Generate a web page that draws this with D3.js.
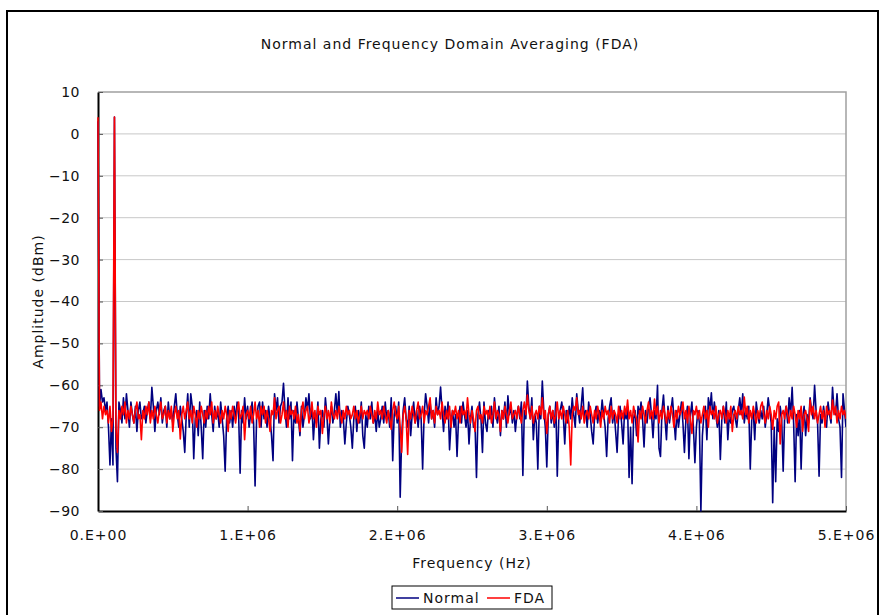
<!DOCTYPE html>
<html><head><meta charset="utf-8">
<script src="https://cdn.jsdelivr.net/npm/d3@7"></script>
<style>
html,body{margin:0;padding:0;background:#fff;}
svg{display:block;font-family:"DejaVu Sans",Verdana,sans-serif;}
</style></head>
<body>
<svg id="chart" width="880" height="615"></svg>
<script>
const title = "Normal and Frequency Domain Averaging (FDA)";
const xTitle = "Frequency (Hz)";
const yTitle = "Amplitude (dBm)";
const seriesNames = ["Normal", "FDA"];
const seriesColors = ["#000080", "#ff0000"];
const freqStep = 10000; // Hz per point
const xTicks = [0, 1e6, 2e6, 3e6, 4e6, 5e6];
const xTickLabels = ["0.E+00", "1.E+06", "2.E+06", "3.E+06", "4.E+06", "5.E+06"];
const yTicks = [10, 0, -10, -20, -30, -40, -50, -60, -70, -80, -90];

const normal = [
3,-65,-61,-64,-63,-66,-64,-70,-79,-68,
-79,4,-75,-83,-64,-66,-69,-63,-68,-62,
-66,-70,-64,-67,-69,-65,-71,-66,-64,-68,
-67,-65,-69,-66,-64,-68,-60.5,-65,-71,-66,
-64,-67,-63,-69,-66,-65,-70,-64,-68,-66,
-69,-65,-62,-67,-70,-65,-68,-71,-76,-67,
-62,-70,-62,-65,-77.5,-68,-66,-72,-64,-70,
-77.5,-66,-70,-65,-68,-62,-67,-71,-65,-68,
-66,-70,-64,-68,-72,-80.5,-68,-65,-69,-66,
-70,-65,-68,-64,-67,-81,-66,-69,-63,-68,
-65,-70,-67,-64,-69,-84,-68,-65,-64,-70,
-64,-68,-66,-70,-65,-68,-72,-78,-62,-66,
-63,-69,-65,-64,-59.5,-66,-70,-63,-68,-64,
-78,-66,-69,-64,-68,-72,-65,-70,-67,-63,
-66,-62,-68,-65,-73,-67,-69,-64,-75,-68,
-66,-70,-63,-67,-74,-68,-65,-69,-66,-62,
-67,-61.5,-70,-66,-68,-74,-69,-65,-67,-70,
-75,-68,-65,-71,-66,-69,-64,-72,-75,-67,
-70,-65,-68,-64,-69,-67,-71,-66,-70,-68,
-65,-69,-64,-68,-66,-70,-63,-78,-67,-65,
-69,-64,-86.7,-72,-66,-63,-68,-70,-65,-72,
-67,-64,-69,-66,-70,-65,-68,-80,-67,-62,
-65,-69,-64,-68,-66,-70,-63,-67,-65,-60.4,
-66,-71,-65,-68,-64,-75.4,-69,-66,-70,-67,
-77,-68,-65,-69,-64,-67,-70,-66,-74,-68,
-65,-70,-69,-82,-67,-64,-68,-76,-64,-69,
-71,-66,-68,-65,-70,-63,-67,-69,-65,-72,
-66,-68,-64,-70,-62.5,-67,-65,-69,-66,-71,
-67,-65,-68,-64,-81.5,-66,-68,-59,-65,-68,
-63,-73,-67,-69,-80,-65,-68,-59,-66,-70,
-79.5,-67,-65,-69,-66,-70,-64,-81.7,-68,-66,
-64,-67,-74,-66,-69,-65,-68,-63,-67,-70,
-62,-66,-69,-65,-60.6,-68,-66,-70,-64,-67,
-71,-74,-67,-65,-69,-66,-68,-63.5,-67,-70,
-77,-68,-65,-63,-69,-66,-71,-76,-67,-65,
-69,-74,-66,-68,-65,-82,-70,-83.5,-68,-66,
-72,-65,-67,-64,-68,-74.7,-66,-69,-65,-63,
-67,-72.5,-66,-68,-60,-75,-77,-66,-62.3,-68,
-73,-65,-69,-66,-63,-68,-73,-66,-70,-67,
-64,-69,-76,-68,-65,-77.5,-67,-64,-70,-78.5,
-70,-66,-69,-90,-72,-67,-65,-73,-63,-66,
-61.8,-68,-64,-67,-70,-66,-77.7,-68,-65,-69,
-64,-73,-67,-69,-66,-65,-68,-70,-66,-63,
-67,-62,-69,-66,-68,-65,-80,-68,-66,-73,
-64,-67,-69,-66,-68,-65,-70,-67,-63,-66,
-69,-88,-70,-83,-68,-71,-65,-68,-80.5,-67,
-65,-69,-63,-67,-60.5,-69,-83,-67,-72,-66,
-80,-68,-65,-72,-67,-69,-63,-66,-68,-60,
-66,-69,-81.7,-67,-69,-65,-68,-70,-64,-67,
-69,-60.5,-66,-67,-62,-68,-70,-82,-62,-66,-70
];

const fda = [
4,-66,-64,-68,-65,-67,-66,-69,-65,-71,
-68,4,-70,-76,-66,-68,-65,-67,-64,-69,
-66,-68,-65,-67,-69,-66,-64,-68,-67,-73,
-66,-68,-65,-67,-64,-69,-66,-68,-65,-67,
-69,-66,-64,-68,-67,-65,-69,-66,-68,-65,
-71,-67,-65,-68,-66,-72.8,-67,-65,-68,-66,
-64,-68,-66,-69,-65,-67,-70,-66,-68,-65,
-67,-69,-66,-68,-65,-67,-64,-69,-66,-68,
-65,-67,-69,-66,-68,-65,-67,-71,-66,-68,
-65,-67,-69,-66,-64,-68,-67,-65,-73,-67,
-66,-68,-65,-69,-67,-64,-68,-66,-70,-65,
-67,-65,-69,-66,-68,-71,-66,-67,-63,-68,
-66,-65,-69,-67,-64,-68,-66,-70,-65,-67,
-66,-68,-65,-69,-67,-71,-66,-64,-68,-66,
-65,-69,-67,-64,-68,-66,-70,-65,-67,-66,
-71.5,-67,-65,-68,-66,-69,-64,-67,-68,-66,
-68,-65,-67,-69,-66,-68,-65,-67,-66,-68,
-67,-65,-68,-66,-69,-67,-65,-68,-66,-67,
-66,-68,-65,-67,-69,-66,-68,-64,-67,-66,
-68,-65,-67,-69,-66,-68,-70.5,-66,-64,-67,
-68,-65,-70,-76,-67,-65,-68,-76.5,-66,-68,
-65,-67,-69,-66,-64,-68,-67,-65,-69,-66,
-67,-65,-63,-68,-66,-69,-65,-67,-66,-68,
-64,-67,-69,-66,-68,-65,-70,-66,-67,-65,
-68,-66,-69,-65,-67,-66,-68,-63,-67,-69,
-66,-68,-71,-66,-65,-68,-67,-69,-65,-67,
-66,-68,-65,-69,-67,-64,-68,-66,-67,-71,
-66,-68,-65,-67,-69,-66,-64,-68,-67,-66,
-68,-65,-67,-69,-66,-64,-67,-62.3,-66,-68,
-65,-69,-67,-66,-68,-65,-67,-63,-68,-66,
-71.5,-67,-65,-68,-66,-69,-67,-64,-68,-66,
-68,-65,-67,-69,-66,-70,-79,-67,-65,-66,
-63,-67,-66,-68,-65,-69,-67,-66,-68,-65,
-67,-69,-66,-68,-65,-67,-70,-66,-68,-65,
-67,-66,-69,-65,-68,-66,-67,-69,-65,-68,
-66,-68,-65,-67,-63.5,-68,-66,-69,-65,-67,
-68,-73.5,-66,-68,-65,-67,-69,-66,-64,-68,
-66,-68,-63.3,-67,-65,-69,-66,-68,-65,-67,
-69,-66,-68,-65,-67,-70,-66,-68,-65,-67,
-66,-64,-68,-66,-69,-65,-68,-71.5,-66,-67,
-65,-68,-66,-69,-67,-65,-68,-66,-70,-65,
-67,-66,-68,-65,-69,-67,-66,-68,-65,-67,
-69,-66,-68,-65,-71,-67,-66,-68,-65,-67,
-66,-68,-62.8,-67,-65,-69,-66,-68,-65,-67,
-69,-66,-68,-65,-64,-67,-69,-66,-68,-65,
-67,-70.5,-66,-68,-65,-64,-74,-67,-66,-68,
-65,-67,-69,-66,-68,-65,-67,-70,-66,-68,
-65,-71,-67,-66,-68,-71,-63.5,-67,-65,-68,
-66,-69,-67,-65,-68,-66,-70,-65,-67,-66,
-68,-63.5,-67,-65,-69,-66,-68,-65,-67,-66,-68
];

const svg = d3.select("#chart");
const m = {left: 98, right: 846, top: 92, bottom: 511};

// outer frame
svg.append("rect").attr("x", 7).attr("y", 11).attr("width", 871).attr("height", 640)
  .attr("fill", "none").attr("stroke", "#000").attr("stroke-width", 2);

const x = d3.scaleLinear().domain([0, 5e6]).range([m.left, m.right]);
const y = d3.scaleLinear().domain([-90, 10]).range([m.bottom, m.top]);

// gridlines
svg.append("g").selectAll("line").data(yTicks.filter(v => v > -90 && v < 10)).join("line")
  .attr("x1", m.left).attr("x2", m.right)
  .attr("y1", d => y(d)).attr("y2", d => y(d))
  .attr("stroke", "#c8c8c8").attr("stroke-width", 1);

// plot border top/right
svg.append("path")
  .attr("d", `M${m.left},${y(10)}H${m.right}V${m.bottom}`)
  .attr("fill", "none").attr("stroke", "#a0a0a0").attr("stroke-width", 1.5);

// axes
const xAxis = d3.axisBottom(x).tickValues(xTicks).tickFormat((d, i) => xTickLabels[i])
  .tickSizeInner(-5).tickSizeOuter(0).tickPadding(19);
const gx = svg.append("g").attr("transform", `translate(0,${m.bottom})`).call(xAxis);
gx.select(".domain").attr("stroke", "#000").attr("stroke-width", 2);
gx.selectAll(".tick line").attr("stroke", "#555");
gx.selectAll("text").attr("font-size", 14).attr("fill", "#111").attr("font-family", "DejaVu Sans")
  .attr("letter-spacing", 1);

const yAxis = d3.axisLeft(y).tickValues(yTicks).tickFormat(d3.format("d"))
  .tickSizeInner(-5).tickSizeOuter(0).tickPadding(18);
const gy = svg.append("g").attr("transform", `translate(${m.left},0)`).call(yAxis);
gy.select(".domain").attr("stroke", "#000").attr("stroke-width", 2);
gy.selectAll(".tick line").attr("stroke", "#555");
gy.selectAll("text").attr("font-size", 14).attr("fill", "#111").attr("font-family", "DejaVu Sans")
  .attr("letter-spacing", 0.5);

svg.append("clipPath").attr("id", "clip").append("rect")
  .attr("x", m.left - 2).attr("y", m.top - 2).attr("width", m.right - m.left + 2).attr("height", m.bottom - m.top + 3);

const line = d3.line().x((d, i) => x(i * freqStep)).y(d => y(d));
const series = [normal, fda];
series.forEach((s, k) => {
  svg.append("path").datum(s).attr("d", line)
    .attr("clip-path", "url(#clip)")
    .attr("fill", "none").attr("stroke", seriesColors[k]).attr("stroke-width", 1.6)
    .attr("stroke-linejoin", "round");
});

// titles
svg.append("text").attr("x", 450).attr("y", 49).attr("text-anchor", "middle")
  .attr("font-size", 14).attr("letter-spacing", 1).attr("fill", "#111").text(title);
svg.append("text").attr("x", (m.left + m.right) / 2).attr("y", 568).attr("text-anchor", "middle")
  .attr("font-size", 14).attr("letter-spacing", 1).attr("fill", "#111").text(xTitle);
svg.append("text").attr("transform", `translate(43,${(m.top + m.bottom) / 2}) rotate(-90)`)
  .attr("text-anchor", "middle").attr("font-size", 14).attr("letter-spacing", 1)
  .attr("fill", "#111").text(yTitle);

// legend
const lg = svg.append("g").attr("transform", "translate(392,586)");
lg.append("rect").attr("x", 0).attr("y", 0).attr("width", 160).attr("height", 23)
  .attr("fill", "#fff").attr("stroke", "#000").attr("stroke-width", 1);
const items = [{x: 4, tx: 31}, {x: 95, tx: 122}];
seriesNames.forEach((n, k) => {
  lg.append("line").attr("x1", items[k].x).attr("x2", items[k].x + 23)
    .attr("y1", 12).attr("y2", 12).attr("stroke", seriesColors[k]).attr("stroke-width", 1.5);
  lg.append("text").attr("x", items[k].tx).attr("y", 17).attr("font-size", 14)
    .attr("letter-spacing", 1).attr("fill", "#111").text(n);
});
</script>
</body></html>
